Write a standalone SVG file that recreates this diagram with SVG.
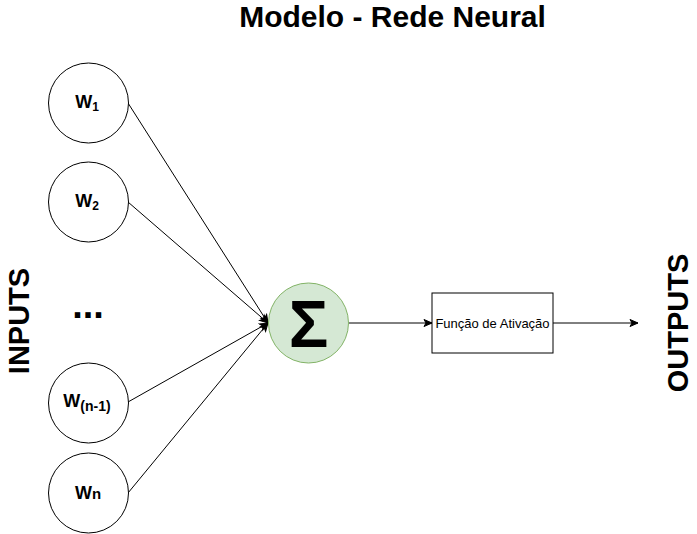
<svg xmlns="http://www.w3.org/2000/svg" width="697" height="534" viewBox="0 0 697 534">
<style>
.w{fill:#fff;stroke:#000;stroke-width:1}
.t{font-family:"Liberation Sans",Arial,sans-serif;fill:#000}
.b{font-weight:bold}
.c{stroke:#000;stroke-width:1;fill:none}
</style>
<defs>
<marker id="ah" markerWidth="10" markerHeight="10" refX="9" refY="5" orient="auto" markerUnits="userSpaceOnUse">
<path d="M1,1.5 L9,5 L1,8.5 L3,5 Z" fill="#000" stroke="#000" stroke-width="1"/>
</marker>
</defs>
<rect width="697" height="534" fill="#fff"/>
<text class="t b" x="392.5" y="27" font-size="30" text-anchor="middle">Modelo - Rede Neural</text>
<g id="connectors">
<line class="c" x1="128" y1="103" x2="268" y2="323" marker-end="url(#ah)"/>
<line class="c" x1="128" y1="202" x2="268" y2="323" marker-end="url(#ah)"/>
<line class="c" x1="128" y1="402" x2="268" y2="323" marker-end="url(#ah)"/>
<line class="c" x1="128" y1="493" x2="268" y2="323" marker-end="url(#ah)"/>
<line class="c" x1="349" y1="323" x2="432" y2="323" marker-end="url(#ah)"/>
<line class="c" x1="553" y1="323" x2="638" y2="323" marker-end="url(#ah)"/>
</g>
<g id="w1">
<circle class="w" cx="88.5" cy="103" r="40"/>
<text class="t b" x="87" y="108" font-size="18" text-anchor="middle">W<tspan font-size="12" dy="3">1</tspan></text>
</g>
<g id="w2">
<circle class="w" cx="88.5" cy="202" r="40"/>
<text class="t b" x="87" y="207" font-size="18" text-anchor="middle">W<tspan font-size="12" dy="3">2</tspan></text>
</g>
<g id="dots">
<text class="t b" x="88" y="318" font-size="38" text-anchor="middle">...</text>
</g>
<g id="wn1">
<circle class="w" cx="88.5" cy="403" r="40"/>
<text class="t b" x="87" y="407" font-size="18" text-anchor="middle">W<tspan font-size="14" dy="4">(n-1)</tspan></text>
</g>
<g id="wn">
<circle class="w" cx="88.5" cy="493" r="40"/>
<text class="t b" x="88" y="499" font-size="18" text-anchor="middle">W<tspan font-size="15">n</tspan></text>
</g>
<g id="sum">
<circle cx="308.5" cy="323" r="40" fill="#d5e8d4" stroke="#82b366" stroke-width="1"/>
<text class="t b" x="308.5" y="347" font-size="66" text-anchor="middle" fill="#111">Σ</text>
</g>
<g id="activation">
<rect class="w" x="432" y="293" width="121" height="60"/>
<text class="t" x="492.5" y="328" font-size="13" text-anchor="middle">Função de Ativação</text>
</g>
<g id="inputs">
<text class="t b" transform="translate(29,321) rotate(-90)" font-size="29" text-anchor="middle">INPUTS</text>
</g>
<g id="outputs">
<text class="t b" transform="translate(688,323) rotate(-90)" font-size="29" text-anchor="middle">OUTPUTS</text>
</g>
</svg>
